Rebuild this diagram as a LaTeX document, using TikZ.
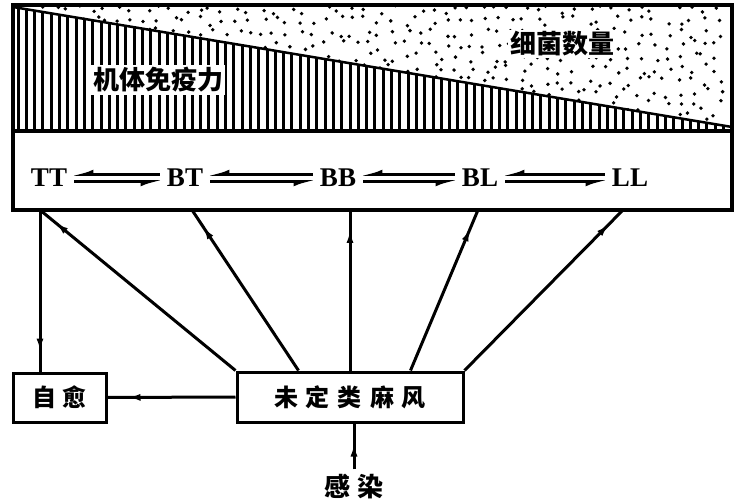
\documentclass[tikz,border=0pt]{standalone}
\usepackage{fontspec}
\setmainfont{Liberation Serif}
\newfontfamily\cjk{Noto Sans CJK SC}
\usetikzlibrary{arrows.meta,decorations.markings}

\begin{document}
\begin{tikzpicture}
        [x=1pt, y=-1pt,
        box/.style={draw, line width=3pt, inner sep=0pt, font=\cjk\bfseries\fontsize{24}{24}\selectfont},
        type/.style={font=\bfseries\fontsize{27}{27}\selectfont, inner sep=0pt},
        zh/.style={font=\cjk\bfseries\fontsize{26}{26}\selectfont, fill=white, inner sep=2pt},
        link/.style={line width=3pt, postaction={decorate},
            decoration={markings, mark=at position -20pt with {\arrow{Latex[length=13pt,width=7pt]}}}},
        harp/.style={line width=2.6pt, shorten <=7pt, shorten >=4pt, -{Latex[right,length=16pt,width=10pt]}},
        hatch/.style={line width=3pt}]
        \useasboundingbox (0,0) rectangle (740,500);

        % bacteria dots above the line
        \pgfmathsetseed{42}
        \begin{scope}
            \clip (13,5) -- (732,5) -- (732,127) -- (13,7) -- cycle;
            \foreach \x in {16,29,...,730}
                \foreach \y in {9,21,...,130} {
                    \pgfmathsetmacro\dx{\x+10*rnd-5}
                    \pgfmathsetmacro\dy{\y+10*rnd-5}
                    \fill (\dx,\dy) circle[radius=1.9pt];
                }
        \end{scope}
        % immunity hatching below the line
        \begin{scope}
            \clip (13,7) -- (732,127) -- (732,131) -- (13,131) -- cycle;
            \foreach \x in {18,26.3,...,732} \draw[hatch] (\x,5) -- (\x,131);
        \end{scope}
        \draw[line width=2.5pt] (13,7) -- (732,127);
        \draw[line width=3.5pt] (13,131) -- (732,131);
        \draw[line width=3.5pt] (13,5) rectangle (732,210);

        \node[zh] (jt) at (158,80) {机体免疫力};
        \node[zh] (xj) at (562,44) {细菌数量};

        \node[type] (TT) at (49,178) {TT};
        \node[type] (BT) at (185,178) {BT};
        \node[type] (BB) at (338,178) {BB};
        \node[type] (BL) at (480,178) {BL};
        \node[type] (LL) at (630,178) {LL};
        \foreach \a/\b in {TT/BT,BT/BB,BB/BL,BL/LL} {
            \draw[harp] ([yshift=3.5pt]\b.west) -- ([yshift=3.5pt]\a.east);
            \draw[harp] ([yshift=-3.5pt]\a.east) -- ([yshift=-3.5pt]\b.west);
        }

        \coordinate (p1) at (40,210);
        \coordinate (p2) at (192,210);
        \coordinate (p3) at (350,210);
        \coordinate (p4) at (478,210);
        \coordinate (p5) at (623,210);

        \node[box, minimum width=93pt, minimum height=49pt] (zy) at (59.5,397.5) {自\hspace{7pt}愈};
        \node[box, minimum width=226pt, minimum height=50pt] (wd) at (350,397)
            {未\hspace{8pt}定\hspace{8pt}类\hspace{8pt}麻\hspace{8pt}风};
        \node[zh, fill=none, inner sep=5pt] (gr) at (354,487) {感\hspace{8pt}染};

        \draw[link] (wd.north west) -- (p1);
        \draw[link] ([xshift=63pt]wd.north west) -- (p2);
        \draw[link] (wd.north) -- (p3);
        \draw[link] ([xshift=-54pt]wd.north east) -- (p4);
        \draw[link] (wd.north east) -- (p5);
        \draw[link] (p1) -- (p1 |- zy.north);
        \draw[link] (wd.west) -- (zy.east);
        \draw[link] (gr.north) -- (gr.north |- wd.south);
\end{tikzpicture}
\end{document}
